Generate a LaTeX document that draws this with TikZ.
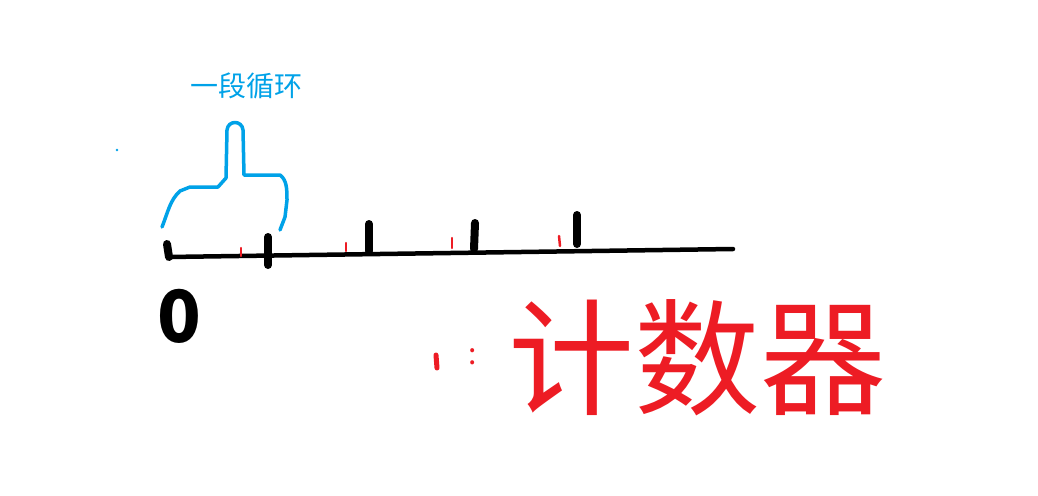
\documentclass[tikz,border=0pt]{standalone}
\usepackage{fontspec}
\newfontfamily\cjk{Noto Sans CJK SC}
\definecolor{pblue}{RGB}{0,162,232}
\definecolor{pred}{RGB}{237,28,36}
\begin{document}
\begin{tikzpicture}[x=1pt,y=-1pt,
  axis/.style={line width=4.5pt,line cap=round,black},
  bigtick/.style={line width=8pt,line cap=round,black},
  redtick/.style={line width=2.5pt,line cap=round,pred},
  bracket/.style={line width=3.5pt,pblue,line cap=round,line join=round}]
\useasboundingbox (0,0) rectangle (1038,495);
\fill[white] (0,0) rectangle (1038,495);
% axis
\coordinate (a0) at (168,257);
\coordinate (a1) at (733,249);
\draw[axis] (a0) -- (a1);
% black ticks
\draw[bigtick] (167,244) -- (169,257);
\draw[bigtick] (268,237) -- (268,265);
\draw[bigtick] (369,224) -- (369,251);
\draw[bigtick] (475,223) -- (474,249);
\draw[bigtick] (577,215) -- (577,244);
% red ticks
\draw[redtick] (241,248) -- (241,256);
\draw[redtick] (346,243) -- (346,251);
\draw[redtick] (452,238) -- (452,248);
\draw[redtick] (559,236) -- (560,246);
% blue bracket
\draw[bracket] (162,227) .. controls (168,212) and (170,200) .. (180,191)
  -- (190,187) -- (218,187) -- (226,178) -- (227,130)
  .. controls (228,120) and (242,120) .. (243,130)
  -- (244,175) -- (280,175) .. controls (287,180) and (287,190) .. (287,200)
  -- (285,217) -- (280,230);
\fill[pblue] (117,150) circle (1.3pt);
\node[text=pblue,font=\cjk\fontsize{28}{28}\selectfont] (title) at (246,86) {一段循环};
% zero
\node[font=\cjk\bfseries\fontsize{72}{72}\selectfont,inner sep=0] (zero) at (179,316) {0};
% legend
\draw[pred,line width=5pt,line cap=round] (436,355) -- (437,368);
\node[text=pred,font=\cjk\fontsize{30}{30}\selectfont,inner sep=0] (colon) at (473,357) {:};
\node[text=pred,font=\cjk\fontsize{126}{126}\selectfont,inner sep=0] (counter) at (697,358) {计数器};
\end{tikzpicture}
\end{document}
